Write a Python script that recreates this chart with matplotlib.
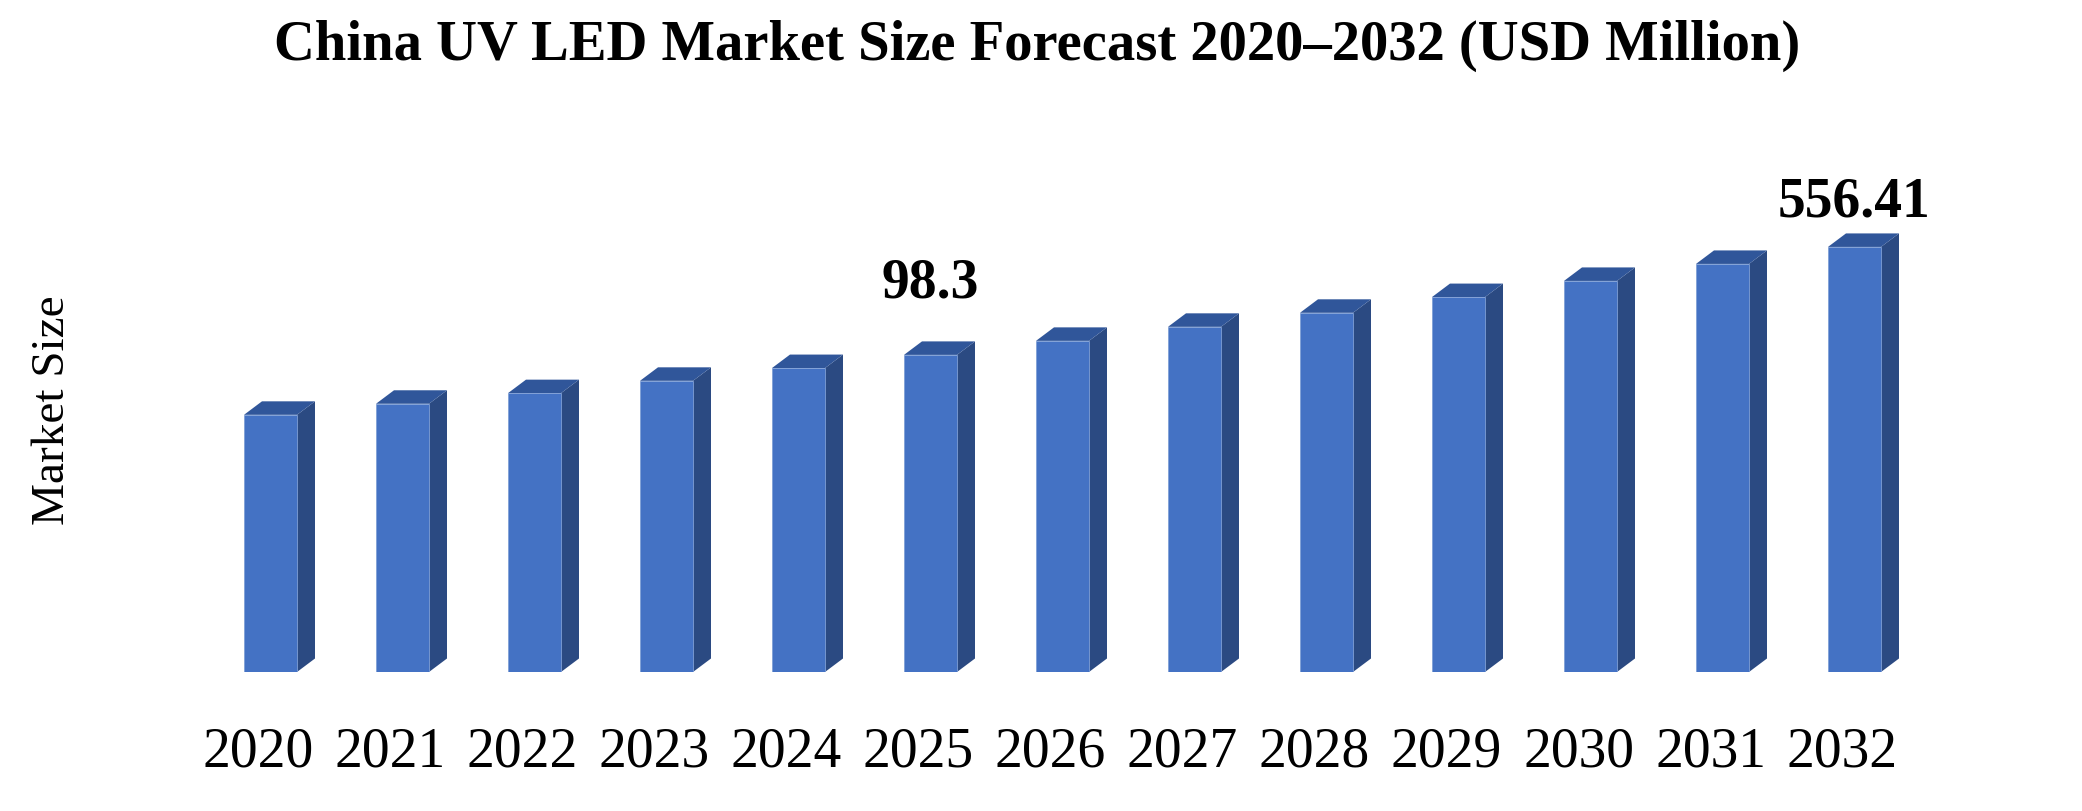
import matplotlib
matplotlib.use('Agg')
import matplotlib.pyplot as plt
import matplotlib.transforms as mtransforms
from matplotlib.patches import Polygon, Rectangle

# data (bar heights are relative, 2032 = 100)
years = ['2020', '2021', '2022', '2023', '2024', '2025', '2026',
         '2027', '2028', '2029', '2030', '2031', '2032']
bar_heights = [60.5, 63.1, 65.6, 68.5, 71.5, 74.6, 77.9,
               81.2, 84.5, 88.2, 92.0, 96.0, 100.0]
value_labels = {'2025': '98.3', '2032': '556.41'}

title = 'China UV LED Market Size Forecast 2020\u20132032 (USD Million)'
ylabel = 'Market Size'

# styling
front_color = '#4472C4'
side_color = '#2B4A82'
top_color = '#30569A'
serif = ['Liberation Serif', 'DejaVu Serif']
label_lift = {'2025': 41.5, '2032': 21.6}  # points above the bar top

W, H = 2082, 811
fig = plt.figure(figsize=(W / 100, H / 100), dpi=100)
ax = fig.add_axes([138.5 / W, 139 / H, 1848 / W, 522 / H])
ax.set_xlim(-1, 13)
ax.set_ylim(0, 122.8)

# depth of the fake 3d box, in pixels -> data units
bbox = ax.get_window_extent()
px_x = bbox.width / 14
px_y = bbox.height / 122.8
dx = 18 / px_x
dy = 13.5 / px_y
half = 26.5 / px_x

for i, h in enumerate(bar_heights):
    x0, x1 = i - half, i + half
    ax.add_patch(Polygon([(x1, 0), (x1 + dx, dy), (x1 + dx, h + dy), (x1, h)],
                         closed=True, facecolor=side_color, edgecolor='none'))
    ax.add_patch(Polygon([(x0, h), (x0 + dx, h + dy), (x1 + dx, h + dy), (x1, h)],
                         closed=True, facecolor=top_color, edgecolor='none'))
    ax.add_patch(Rectangle((x0, 0), 2 * half, h, facecolor=front_color,
                           edgecolor='#7F9FD6', linewidth=0.6))

for i, yr in enumerate(years):
    if yr in value_labels:
        ax.annotate(value_labels[yr], (i, bar_heights[i]),
                    xytext=(0, label_lift[yr]), textcoords='offset points',
                    ha='center', va='baseline', fontsize=40,
                    fontweight='bold', family=serif)

ax.set_xticks(range(len(years)))
ax.set_xticklabels(years, fontsize=40, family=serif)
ax.tick_params(axis='x', length=0, pad=39)
ax.tick_params(axis='y', left=False, labelleft=False)
# year labels sit a little left of the bar centres
shift = mtransforms.ScaledTranslation(-12 / 100, 0, fig.dpi_scale_trans)
for lab in ax.get_xticklabels():
    lab.set_transform(lab.get_transform() + shift)
for s in ax.spines.values():
    s.set_visible(False)

fig.text(1037 / W, 1 - 60 / H, title, ha='center', va='baseline',
         fontsize=40.8, fontweight='bold', family=serif)
fig.text(53 / W, 1 - 410 / H, ylabel, rotation=90, ha='center', va='center',
         fontsize=34, family=serif)

fig.savefig('out.png', dpi=100, facecolor='white')
